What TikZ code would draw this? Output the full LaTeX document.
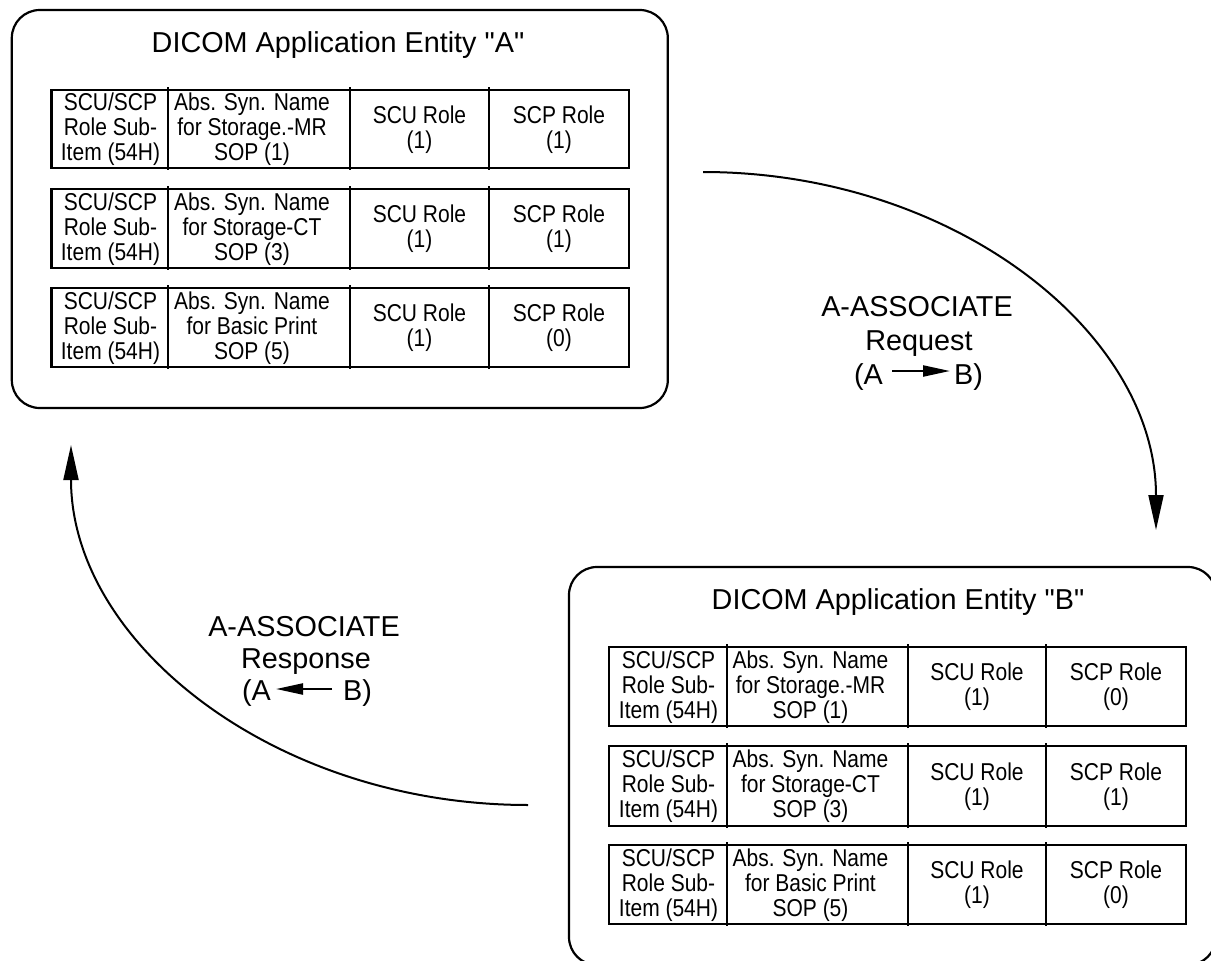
\documentclass[tikz,border=0pt]{standalone}
\usepackage{fontspec}
\usepackage{graphicx}
\setmainfont{Liberation Sans}
\newfontfamily\qfont{Liberation Sans}
\usetikzlibrary{arrows.meta,calc}
\newcommand{\cellbox}[1]{\scalebox{1}[1.16]{\fontsize{21}{20.5}\selectfont\begin{tabular}{@{}c@{}}#1\end{tabular}}}
\newcommand{\sq}{{\qfont"}}
\begin{document}
\begin{tikzpicture}[x=1pt,y=-1pt,
  entity/.style={draw, line width=2.2pt, rounded corners=28pt, inner sep=0pt},
  tbl/.style={line width=2.8pt},
  celltxt/.style={inner sep=0pt, yshift=-1.5pt},
  ttl/.style={anchor=base, inner sep=0pt, font=\fontsize{28.8}{33}\selectfont},
  lbl/.style={inner sep=0pt, font=\fontsize{28.8}{33}\selectfont},
  flow/.style={line width=2pt, -{Triangle[length=35pt,width=15pt]}},
  mini/.style={line width=2.2pt, -{Triangle[length=27pt,width=11pt]}}
]
\useasboundingbox (0,0) rectangle (1211,961);
\fill[white] (0,0) rectangle (1211,961);
\clip (0,0) rectangle (1211,961);

% Entity boxes
\node[entity, minimum width=656pt, minimum height=398pt] (boxA) at (339.8,209) {};
\node[entity, minimum width=647pt, minimum height=398pt] (boxB) at (892.5,766) {};

\node[ttl] (titleA) at (338,52.3) {DICOM Application Entity \sq A\sq};
\node[ttl] (titleB) at (898,609) {DICOM Application Entity \sq B\sq};

% Table A
\foreach \r/\yt/\yb/\nmb/\sop/\scp in {1/90/168/for Storage.-MR/1/1, 2/189/268/for Storage-CT/3/1, 3/288/367/for Basic Print/5/0} {
  \draw[tbl] (51.5,\yt) rectangle (629,\yb);
  \foreach \xx in {168,350,489} \draw[tbl] (\xx,{\yt-3}) -- (\xx,{\yb+2});
  \node[celltxt] (A-\r-1) at (110.5,{(\yt+\yb)/2}) {\cellbox{SCU/SCP\\Role Sub-\\Item (54H)}};
  \node[celltxt] (A-\r-2) at (252,{(\yt+\yb)/2}) {\cellbox{Abs. Syn. Name\\\nmb\\SOP (\sop)}};
  \node[celltxt] (A-\r-3) at (419.5,{(\yt+\yb)/2}) {\cellbox{SCU Role\\(1)}};
  \node[celltxt] (A-\r-4) at (559,{(\yt+\yb)/2}) {\cellbox{SCP Role\\(\scp)}};
}

% Table B
\foreach \r/\yt/\yb/\nmb/\sop/\scp in {1/647/726/for Storage.-MR/1/0, 2/746/826/for Storage-CT/3/1, 3/845/924/for Basic Print/5/0} {
  \draw[tbl] (609,\yt) rectangle (1186,\yb);
  \foreach \xx in {727,908,1046} \draw[tbl] (\xx,{\yt-3}) -- (\xx,{\yb+2});
  \node[celltxt] (B-\r-1) at (668.5,{(\yt+\yb)/2}) {\cellbox{SCU/SCP\\Role Sub-\\Item (54H)}};
  \node[celltxt] (B-\r-2) at (810.5,{(\yt+\yb)/2}) {\cellbox{Abs. Syn. Name\\\nmb\\SOP (\sop)}};
  \node[celltxt] (B-\r-3) at (977,{(\yt+\yb)/2}) {\cellbox{SCU Role\\(1)}};
  \node[celltxt] (B-\r-4) at (1116,{(\yt+\yb)/2}) {\cellbox{SCP Role\\(\scp)}};
}

% Request arrow
\coordinate (reqS) at (703,172);
\coordinate (reqE) at (1156,530);
\draw[flow] (reqS) .. controls (953,172) and (1156,332) .. (reqE);

\node[lbl, anchor=base] (reqL1) at (917,316) {A-ASSOCIATE};
\node[lbl, anchor=base] (reqL2) at (919,350) {Request};
\node[lbl, anchor=base east] (reqA) at (883,384) {(A};
\node[lbl, anchor=base west] (reqB) at (954,384) {B)};
\draw[mini] ($(reqA.base east)+(9,-13)$) -- ($(reqB.base west)+(-4,-13)$);

% Response arrow
\coordinate (resS) at (528,805);
\coordinate (resE) at (71,445);
\draw[flow] (resS) .. controls (276,805) and (71,644) .. (resE);

\node[lbl, anchor=base] (resL1) at (304,636) {A-ASSOCIATE};
\node[lbl, anchor=base] (resL2) at (306,668) {Response};
\node[lbl, anchor=base east] (resA) at (271,700) {(A};
\node[lbl, anchor=base west] (resB) at (343,700) {B)};
\draw[mini] ($(resB.base west)+(-11,-11)$) -- ($(resA.base east)+(5,-11)$);
\end{tikzpicture}
\end{document}
